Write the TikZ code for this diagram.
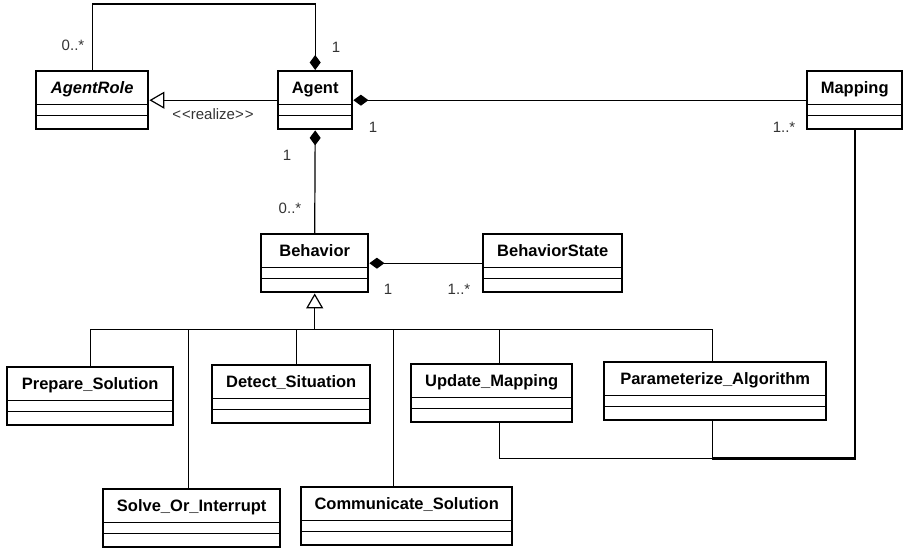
\documentclass[tikz,border=0pt]{standalone}
\usepackage{fontspec}
\setmainfont{Liberation Sans}
\usetikzlibrary{arrows.meta}

\tikzset{
  umlclass/.style={draw, line width=2.4pt, anchor=north west,
    inner xsep=0pt, inner ysep=0pt, minimum height=58pt,
    text height=22pt, text depth=36pt,
    font=\fontsize{16.5}{18}\selectfont\bfseries,
    path picture={
      \draw[line width=1.2pt] ([yshift=-33pt]path picture bounding box.north west)
        -- ([yshift=-33pt]path picture bounding box.north east);
      \draw[line width=1.2pt] ([yshift=-44pt]path picture bounding box.north west)
        -- ([yshift=-44pt]path picture bounding box.north east);
    }},
  mult/.style={font=\fontsize{15}{17}\selectfont, text=black!80},
  assoc/.style={line width=1.2pt},
  comp/.style={assoc, -{Diamond[length=15pt,width=11pt]}},
  gen/.style={assoc, -{Triangle[open,length=15pt,width=17pt,fill=white]}},
}

\begin{document}
\begin{tikzpicture}[x=1pt,y=-1pt]
    \useasboundingbox (0,0) rectangle (905,549);

    % the classes
    \node[umlclass, minimum width=112pt] (agentrole) at (35,70) {\itshape AgentRole};
    \node[umlclass, minimum width=74pt] (agent) at (277,70) {Agent};
    \node[umlclass, minimum width=95pt] (mapping) at (806,70) {Mapping};
    \node[umlclass, minimum width=107pt] (behavior) at (260,233) {Behavior};
    \node[umlclass, minimum width=139pt] (behaviorstate) at (482,233) {BehaviorState};

    % the behaviors
    \node[umlclass, minimum width=166pt] (prepare) at (6,366) {Prepare\_Solution};
    \node[umlclass, minimum width=158pt] (detect) at (211,364) {Detect\_Situation};
    \node[umlclass, minimum width=161pt] (update) at (410,363) {Update\_Mapping};
    \node[umlclass, minimum width=222pt] (param) at (603,361) {Parameterize\_Algorithm};
    \node[umlclass, minimum width=177pt] (solve) at (102,488) {Solve\_Or\_Interrupt};
    \node[umlclass, minimum width=211pt] (communicate) at (300,486) {Communicate\_Solution};

    % agent and its parts
    \draw[comp] (agentrole.north) -- ++(0,-66) -| (agent.north);
    \draw[gen] (agent.west) -- (agentrole.east);
    \draw[comp] (agent.east -| mapping.west) -- (agent.east);
    \draw[comp] (behavior.north) -- (agent.south);
    \draw[comp] (behaviorstate.west) -- (behavior.east);

    % multiplicities
    \node[mult] (m1) at (73,45) {0..*};
    \node[mult] (m2) at (336,47) {1};
    \node[mult] (realize) at (213,114) {<\kern1pt<realize>\kern1pt>};
    \node[mult] (m3) at (373,127) {1};
    \node[mult] (m4) at (784,127) {1..*};
    \node[mult] (m5) at (287,155) {1};
    \node[mult] (m6) at (290,208) {0..*};
    \node[mult] (m7) at (388,289) {1};
    \node[mult] (m8) at (459,289) {1..*};

    % inheritance tree
    \coordinate (hub) at ([yshift=-36pt]behavior.south);
    \draw[assoc] (prepare.north) |- (hub);
    \draw[assoc] ([xshift=-3pt]solve.north) |- (hub);
    \draw[assoc] ([xshift=5pt]detect.north) |- (hub);
    \draw[assoc] ([xshift=-13pt]communicate.north) |- (hub);
    \draw[assoc] ([xshift=8pt]update.north) |- (hub);
    \draw[assoc] ([xshift=-3pt]param.north) |- (hub);
    \draw[gen] (hub) -- (behavior.south);

    % mapping is used by two behaviors
    \coordinate (pj) at ([xshift=-3pt,yshift=-37pt]param.south);
    \draw[line width=2.2pt] (mapping.south) |- (pj);
    \draw[assoc] ([xshift=-3pt]param.south) -- (pj) -| ([xshift=8pt]update.south);

\end{tikzpicture}
\end{document}
